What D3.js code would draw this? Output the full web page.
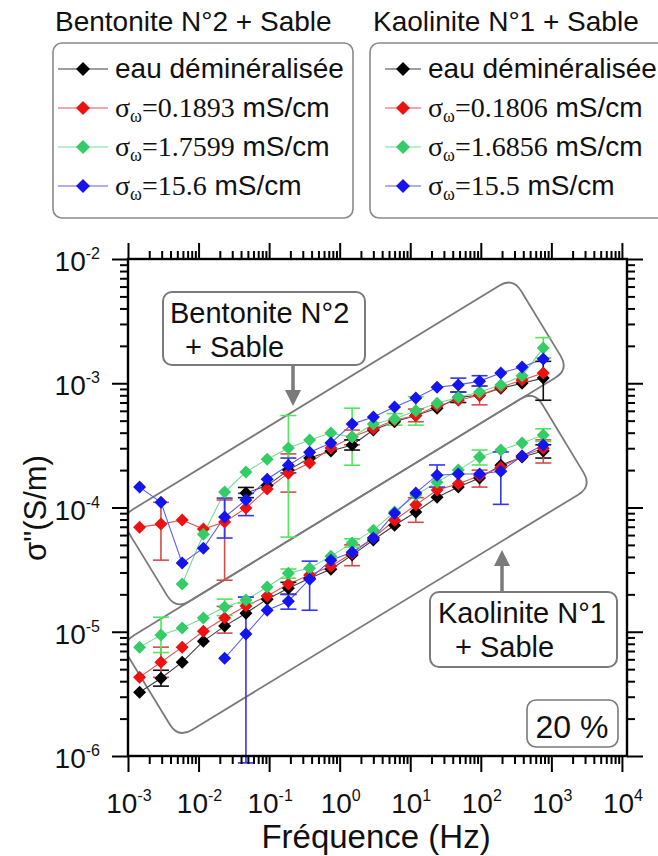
<!DOCTYPE html>
<html><head><meta charset="utf-8">
<script src="https://cdn.jsdelivr.net/npm/d3@7"></script>
<style>
body{margin:0;background:#fff}
svg{display:block}
text{font-family:"Liberation Sans",Arial,sans-serif;fill:#111}
</style>
</head><body>
<svg id="c" width="658" height="856"></svg>
<script>
// ---------------- data ----------------
const freqs = [0.00146,0.00293,0.00586,0.0117,0.0234,0.0469,0.0938,0.1875,0.375,0.75,1.5,3,6,12,24,48,96,192,384,768];

// Bentonite N°2 + Sable
const benBlack = [null,null,null,null,null,1.31e-4,1.50e-4,2.0e-4,2.5e-4,2.85e-4,3.18e-4,4.2e-4,4.9e-4,5.5e-4,6.3e-4,7.7e-4,8.0e-4,9.1e-4,1.0e-3,1.1e-3];
const benRed   = [6.95e-5,7.35e-5,7.92e-5,6.70e-5,7.63e-5,9.9e-5,1.41e-4,1.89e-4,2.28e-4,3.01e-4,3.69e-4,4.3e-4,5.06e-4,5.5e-4,6.6e-4,7.3e-4,8.0e-4,9.3e-4,1.06e-3,1.21e-3];
const benGreen = [null,null,2.42e-5,6.1e-5,1.33e-4,1.93e-4,2.45e-4,3.01e-4,3.49e-4,3.97e-4,3.69e-4,4.7e-4,5.15e-4,6.0e-4,6.9e-4,7.7e-4,8.5e-4,9.7e-4,1.15e-3,1.92e-3];
const benBlue  = [1.46e-4,1.10e-4,3.57e-5,4.71e-5,8.38e-5,1.15e-4,1.69e-4,2.19e-4,2.79e-4,3.30e-4,4.69e-4,5.35e-4,6.43e-4,7.6e-4,9.3e-4,9.7e-4,1.04e-3,1.21e-3,1.35e-3,1.57e-3];

// Kaolinite N°1 + Sable
const kaoBlack = [3.26e-6,4.23e-6,5.69e-6,8.4e-6,1.11e-5,1.41e-5,1.83e-5,2.24e-5,2.7e-5,3.19e-5,4.14e-5,5.47e-5,7.2e-5,9.2e-5,1.21e-4,1.46e-4,1.73e-4,2.19e-4,2.55e-4,2.85e-4];
const kaoRed   = [4.31e-6,5.69e-6,7.52e-6,1.01e-5,1.29e-5,1.61e-5,1.94e-5,2.42e-5,2.86e-5,3.37e-5,4.29e-5,5.7e-5,7.9e-5,1.05e-4,1.38e-4,1.55e-4,1.8e-4,2.1e-4,2.6e-4,3.0e-4];
const kaoGreen = [7.52e-6,9.4e-6,1.07e-5,1.29e-5,1.58e-5,1.8e-5,2.29e-5,2.96e-5,3.25e-5,4.06e-5,5.17e-5,6.57e-5,9.2e-5,1.26e-4,1.6e-4,2.0e-4,2.55e-4,2.9e-4,3.30e-4,3.83e-4];
const kaoBlue  = [null,null,null,null,6.12e-6,9.57e-6,1.49e-5,1.76e-5,2.65e-5,3.77e-5,4.37e-5,5.68e-5,9.0e-5,1.31e-4,1.82e-4,1.86e-4,1.86e-4,1.96e-4,2.6e-4,3.18e-4];

// error bars: [index, low, high]
const benBlackErr = [[5,1.2e-4,1.45e-4],[10,2.9e-4,3.5e-4],[15,7.0e-4,8.5e-4],[19,7.3e-4,1.5e-3]];
const benRedErr   = [[1,3.77e-5,1.1e-4],[4,2.6e-5,1.15e-4],[7,1.33e-4,2.7e-4],[10,3.2e-4,4.2e-4],[13,4.9e-4,6.2e-4],[16,6.7e-4,9.5e-4]];
const benGreenErr = [[7,5.78e-5,5.5e-4],[10,2.19e-4,6.3e-4],[12,4.6e-4,5.7e-4],[13,4.6e-4,7.8e-4],[19,1.6e-3,2.33e-3]];
const benBlueErr  = [[4,5.68e-5,1.19e-4],[5,8.6e-5,1.3e-4],[7,1.9e-4,2.5e-4],[15,8.5e-4,1.1e-3],[16,9.5e-4,1.15e-3]];
const kaoBlackErr = [[1,3.65e-6,4.9e-6],[7,2.0e-5,2.5e-5],[19,2.5e-4,3.2e-4]];
const kaoRedErr   = [[1,4.3e-6,7.52e-6],[4,9.75e-6,1.6e-5],[10,3.4e-5,5.0e-5],[13,7.6e-5,1.2e-4],[16,1.46e-4,2.0e-4],[19,2.28e-4,3.5e-4]];
const kaoGreenErr = [[1,6.8e-6,1.31e-5],[4,1.35e-5,1.83e-5],[5,1.7e-5,1.9e-5],[7,2.7e-5,3.2e-5],[10,4.8e-5,5.6e-5],[16,2.2e-4,2.9e-4],[19,3.4e-4,4.3e-4]];
const kaoBlueErr  = [[5,8.8e-7,1.9e-5],[7,1.52e-5,2.0e-5],[8,1.49e-5,3.7e-5],[14,1.46e-4,2.2e-4],[17,1.06e-4,2.8e-4]];

// legend texts
const benTitle = "Bentonite N°2 + Sable";
const kaoTitle = "Kaolinite N°1 + Sable";
const waterLabel = "eau déminéralisée";
const benCond = ["0.1893","1.7599","15.6"];
const kaoCond = ["0.1806","1.6856","15.5"];

// tick labels
const xExps = [-3,-2,-1,0,1,2,3,4];
const yExps = [-2,-3,-4,-5,-6];

// annotation band corners (data units: [freq, sigma])
const benBand = [[7.55e-4,8.3e-5],[284,7.12e-3],[1775,1.29e-3],[4.74e-3,1.51e-5]];
const kaoBand = [[7.8e-4,8.04e-6],[566,8.73e-4],[3750,1.48e-4],[5.14e-3,1.39e-6]];

// ---------------- drawing ----------------
const svg = d3.select("#c");
const x = d3.scaleLog().domain([1e-3, 1.18e4]).range([128, 627]);
const y = d3.scaleLog().domain([1e-6, 1e-2]).range([756, 259]);
const [X0, X1] = x.range();
const [Y1, Y0] = y.range();

const colors = {
  black: {m:"#000000", l:"#404040", e:"#111111"},
  red:   {m:"#ee1111", l:"#e85050", e:"#d24c4c"},
  green: {m:"#33cc66", l:"#7adb96", e:"#4fe85a"},
  blue:  {m:"#1414ee", l:"#5c5cf2", e:"#3434f4"}
};

svg.append("defs").append("clipPath").attr("id","plotclip")
  .append("rect").attr("x",X0).attr("y",Y0).attr("width",X1-X0).attr("height",Y1-Y0);

function roundedPoly(pts, r){
  let d = "";
  const n = pts.length;
  for(let i=0;i<n;i++){
    const p0 = pts[(i-1+n)%n], p1 = pts[i], p2 = pts[(i+1)%n];
    const u = (a,b)=>{const dx=a[0]-b[0], dy=a[1]-b[1], L=Math.hypot(dx,dy); return [dx/L, dy/L];};
    const v1 = u(p0,p1), v2 = u(p2,p1);
    const a = [p1[0]+v1[0]*r, p1[1]+v1[1]*r], b = [p1[0]+v2[0]*r, p1[1]+v2[1]*r];
    d += (i===0?"M":"L") + a[0]+","+a[1] + "Q" + p1[0]+","+p1[1]+" "+b[0]+","+b[1];
  }
  return d + "Z";
}

const bandG = svg.append("g").attr("clip-path","url(#plotclip)");
[benBand, kaoBand].forEach(b=>{
  const pts = b.map(p=>[x(p[0]), y(p[1])]);
  bandG.append("path").attr("d", roundedPoly(pts, 16))
    .attr("fill","none").attr("stroke","#7a7a7a").attr("stroke-width",1.8);
});

const series = [
  {v:benBlack, e:benBlackErr, c:colors.black},
  {v:benRed,   e:benRedErr,   c:colors.red},
  {v:benGreen, e:benGreenErr, c:colors.green},
  {v:benBlue,  e:benBlueErr,  c:colors.blue},
  {v:kaoBlack, e:kaoBlackErr, c:colors.black},
  {v:kaoRed,   e:kaoRedErr,   c:colors.red},
  {v:kaoGreen, e:kaoGreenErr, c:colors.green},
  {v:kaoBlue,  e:kaoBlueErr,  c:colors.blue}
];
const diamond = s => `M0,${-s}L${s},0L0,${s}L${-s},0Z`;
const line = d3.line().defined(d=>d[1]!=null).x(d=>x(d[0])).y(d=>y(d[1]));
const dataG = svg.append("g");
series.forEach(s=>{
  dataG.append("path").datum(freqs.map((f,i)=>[f, s.v[i]]))
    .attr("d", line).attr("fill","none").attr("stroke", s.c.l).attr("stroke-width",1.1);
});
series.forEach(s=>{
  const g = dataG.append("g").attr("stroke", s.c.e).attr("stroke-width",1.6).attr("fill","none");
  s.e.forEach(([i,lo,hi])=>{
    const cx = x(freqs[i]);
    g.append("line").attr("x1",cx).attr("x2",cx).attr("y1",y(lo)).attr("y2",y(hi));
    g.append("line").attr("x1",cx-8).attr("x2",cx+8).attr("y1",y(lo)).attr("y2",y(lo));
    g.append("line").attr("x1",cx-8).attr("x2",cx+8).attr("y1",y(hi)).attr("y2",y(hi));
  });
});
series.forEach(s=>{
  dataG.append("g").selectAll("path")
    .data(freqs.map((f,i)=>[f, s.v[i]]).filter(d=>d[1]!=null))
    .join("path").attr("d", diamond(6.5))
    .attr("transform", d=>`translate(${x(d[0])},${y(d[1])})`)
    .attr("fill", s.c.m);
});

// axes
const majX = xExps.map(e=>Math.pow(10,e));
const minX = [];
xExps.forEach(e=>{ for(let m=2;m<=9;m++){ const v=m*Math.pow(10,e); if(v<=x.domain()[1]) minX.push(v);} });
const majY = yExps.map(e=>Math.pow(10,e));
const minY = [];
yExps.slice(1).forEach(e=>{ for(let m=2;m<=9;m++) minY.push(m*Math.pow(10,e)); });

function styleAxis(g){
  g.select(".domain").remove();
  g.selectAll("line").attr("stroke","#000").attr("stroke-width",2);
  g.selectAll("text").remove();
}
const axes = [
  [d3.axisBottom(x), `translate(0,${Y1})`, majX, minX],
  [d3.axisTop(x), `translate(0,${Y0})`, majX, minX],
  [d3.axisLeft(y), `translate(${X0},0)`, majY, minY],
  [d3.axisRight(y), `translate(${X1},0)`, majY, minY]
];
axes.forEach(([ax, tr, maj, min])=>{
  svg.append("g").attr("transform",tr).call(ax.tickValues(maj).tickSize(16).tickFormat("")).call(styleAxis);
  svg.append("g").attr("transform",tr).call(ax.tickValues(min).tickSize(8).tickFormat("")).call(styleAxis);
});
svg.append("rect").attr("x",X0).attr("y",Y0).attr("width",X1-X0).attr("height",Y1-Y0)
  .attr("fill","none").attr("stroke","#000").attr("stroke-width",2.4);

// tick labels
xExps.forEach(e=>{
  const t = svg.append("text").attr("x", x(Math.pow(10,e))+1).attr("y", 813)
    .attr("text-anchor","middle").attr("font-size",28).text("10");
  t.append("tspan").attr("dy",-12).attr("font-size",16).text(String(e));
});
yExps.forEach(e=>{
  const t = svg.append("text").attr("x", 100).attr("y", y(Math.pow(10,e))+12)
    .attr("text-anchor","end").attr("font-size",28).text("10");
  t.append("tspan").attr("dy",-12).attr("font-size",16).text(String(e));
});

// axis titles
svg.append("text").attr("x",376).attr("y",848).attr("text-anchor","middle")
  .attr("font-size",33).text("Fréquence (Hz)");
svg.append("text").attr("transform","translate(46,508) rotate(-90)").attr("text-anchor","middle")
  .attr("font-size",31).text("σ\"(S/m)");

// legends
function legend(x0, boxX, title, cond, lineX1, lineX2, diaX, textX){
  const g = svg.append("g");
  g.append("text").attr("x",x0).attr("y",31).attr("font-size",28).text(title);
  g.append("rect").attr("x",boxX).attr("y",43).attr("width",300).attr("height",175).attr("rx",9)
    .attr("fill","#fff").attr("stroke","#8a8a8a").attr("stroke-width",1.6);
  const rows = [69,108,147,186];
  const cs = [colors.black, colors.red, colors.green, colors.blue];
  rows.forEach((ry,i)=>{
    g.append("line").attr("x1",lineX1).attr("x2",lineX2).attr("y1",ry).attr("y2",ry)
      .attr("stroke",cs[i].l).attr("stroke-width",1.2);
    g.append("path").attr("d",diamond(7)).attr("transform",`translate(${diaX},${ry})`).attr("fill",cs[i].m);
    const t = g.append("text").attr("x",textX).attr("y",ry+9).attr("font-size",28);
    if(i===0){ t.text(waterLabel); }
    else {
      t.append("tspan").attr("font-family","Liberation Serif, Times New Roman, serif").text("σ");
      t.append("tspan").attr("font-family","Liberation Serif, Times New Roman, serif").attr("font-size",18).attr("dy",5).text("ω");
      t.append("tspan").attr("font-family","Liberation Serif, Times New Roman, serif").attr("dy",-5).text("="+cond[i-1]);
      t.append("tspan").text(" mS/cm");
    }
  });
}
legend(55, 53, benTitle, benCond, 58, 108, 83, 115);
legend(373, 370, kaoTitle, kaoCond, 385, 421, 403, 428);

// annotation boxes
function annot(bx, by, bw, bh, lines, lx, ax, ay1, ay2, tip){
  const g = svg.append("g");
  g.append("rect").attr("x",bx).attr("y",by).attr("width",bw).attr("height",bh).attr("rx",9)
    .attr("fill","#fff").attr("stroke","#7a7a7a").attr("stroke-width",2);
  lines.forEach((s,i)=>g.append("text").attr("x",lx[i]).attr("y",by+31+i*34).attr("font-size",29).text(s));
  if(ax!=null){
    g.append("line").attr("x1",ax).attr("x2",ax).attr("y1",ay1).attr("y2",ay2)
      .attr("stroke","#7a7a7a").attr("stroke-width",3.5);
    const dir = Math.sign(tip-ay2);
    g.append("path").attr("d",`M${ax-8},${ay2-dir*2}L${ax+8},${ay2-dir*2}L${ax},${tip}Z`).attr("fill","#7a7a7a");
  }
}
annot(163, 292, 202, 73, ["Bentonite N°2","+ Sable"], [170,185], 293, 365, 392, 406);
annot(430, 592, 187, 75, ["Kaolinite N°1","+ Sable"], [438,455], 502, 592, 564, 550);
svg.append("rect").attr("x",527).attr("y",700).attr("width",91).attr("height",47).attr("rx",9)
  .attr("fill","#fff").attr("stroke","#7a7a7a").attr("stroke-width",1.6);
svg.append("text").attr("x",572).attr("y",738).attr("text-anchor","middle").attr("font-size",32).text("20 %");
</script>
</body></html>
